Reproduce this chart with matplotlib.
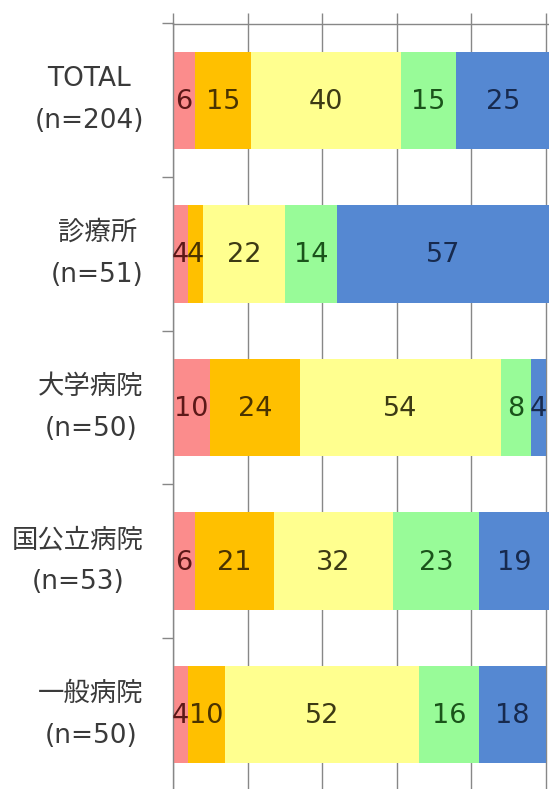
import numpy as np
import matplotlib
matplotlib.use("Agg")
from matplotlib import pyplot as plt

plt.rcParams['font.family'] = ['DejaVu Sans', 'Noto Sans CJK JP']

# groups, top to bottom
groups = ["TOTAL\n(n=204)", "診療所\n(n=51)", "大学病院\n(n=50)", "国公立病院\n(n=53)", "一般病院\n(n=50)"]

# share (%) of each answer category, one list per category
s1 = [6, 4, 10, 6, 4]
s2 = [15, 4, 24, 21, 10]
s3 = [40, 22, 54, 32, 52]
s4 = [15, 14, 8, 23, 16]
s5 = [25, 57, 4, 19, 18]

series = [s1, s2, s3, s4, s5]
fills = ["#fb8c8c", "#ffc000", "#ffff8f", "#98fb98", "#5588d2"]
inks = ["#5c1818", "#4a3300", "#3c3a14", "#1a531a", "#172a4e"]
grid_col = "#878787"

fig = plt.figure(figsize=(5.49, 7.89), dpi=100)
ax = fig.add_axes([173 / 549, -2.5 / 789, 376 / 549, 768 / 789])

y = np.arange(len(groups))
left = np.zeros(len(groups))
for vals, fc, tc in zip(series, fills, inks):
    vals = np.array(vals, dtype=float)
    bars = ax.barh(y, vals, left=left, height=0.635, color=fc, zorder=2)
    for b, v in zip(bars, vals):
        ax.text(b.get_x() + b.get_width() / 2, b.get_y() + b.get_height() / 2 + 0.01,
                f"{v:g}", ha="center", va="center", fontsize=19.5, color=tc,
                zorder=3, clip_on=True)
    left += vals

ax.set_xlim(0, 376 / 3.73)
ax.set_ylim(len(groups) - 0.5, -0.5)

# percent axis along the top, ticks only
ax.xaxis.tick_top()
ax.set_xticks(np.arange(0, 101, 20))
ax.set_xticklabels([])
ax.tick_params(axis="x", length=7.8, width=1, color=grid_col, direction="out")
ax.grid(axis="x", color=grid_col, linewidth=1, zorder=0)

# group labels, with separator ticks between groups
ax.set_yticks(y)
ax.set_yticklabels(groups, fontsize=19, color="#3a3a3a", linespacing=1.8)
for lab in ax.get_yticklabels():
    lab.set_multialignment("center")
    lab.set_verticalalignment("center")
ax.tick_params(axis="y", which="major", length=0, pad=21)
ax.set_yticks(np.arange(-0.5, len(groups), 1), minor=True)
ax.tick_params(axis="y", which="minor", length=7.8, width=1, color=grid_col, direction="out")

for side in ("right", "bottom"):
    ax.spines[side].set_visible(False)
for side in ("top", "left"):
    ax.spines[side].set_color(grid_col)
    ax.spines[side].set_linewidth(1)
ax.set_axisbelow(True)

fig.savefig("out.png", dpi=100)
